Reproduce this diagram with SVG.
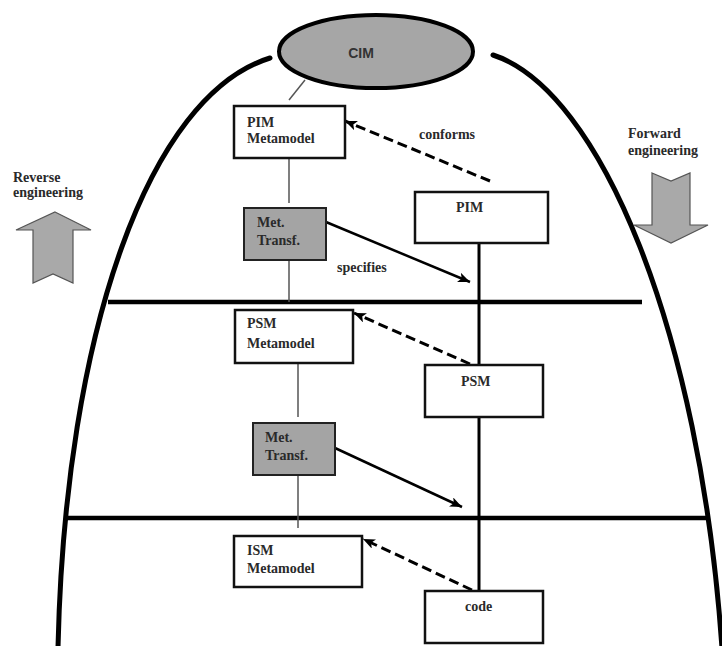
<svg xmlns="http://www.w3.org/2000/svg" width="722" height="646" viewBox="0 0 722 646">
  <style>
    .lbl { font-family: "Liberation Serif", "Times New Roman", serif; font-weight: bold; font-size: 14px; fill: #2a2a2a; }
    .sans { font-family: "Liberation Sans", Arial, sans-serif; font-weight: bold; font-size: 14px; fill: #333; }
    .box { fill: #fff; stroke: #111; stroke-width: 2.5; }
    .gbox { fill: #a4a4a4; stroke: #222; stroke-width: 2; }
    .arc { fill: none; stroke: #000; stroke-width: 5; stroke-linecap: round; }
    .level { stroke: #000; stroke-width: 4.5; }
    .thin { stroke: #555; stroke-width: 1.5; fill: none; }
    .trunk { stroke: #000; stroke-width: 3; }
    .dash { stroke: #000; stroke-width: 3; stroke-dasharray: 10 5; fill: none; }
    .solid { stroke: #000; stroke-width: 2.5; fill: none; }
    .bigarrow { fill: #a9a9a9; stroke: #555; stroke-width: 1.2; stroke-linejoin: miter; }
  </style>
  <defs>
    <marker id="head" markerUnits="userSpaceOnUse" markerWidth="14" markerHeight="12" refX="12" refY="5" orient="auto">
      <path d="M0,0 L12,5 L0,10 L3,5 Z" fill="#000"/>
    </marker>
  </defs>

  <!-- outer boundary arcs -->
  <g id="boundary">
    <path class="arc" d="M270,58 C150,95 65,330 58,648"/>
    <path class="arc" d="M493,55 C600,90 700,330 722,648"/>
  </g>

  <!-- level separators -->
  <g id="levels">
    <line class="level" x1="108" y1="302" x2="642" y2="302"/>
    <line class="level" x1="66" y1="518" x2="706" y2="518"/>
  </g>

  <!-- engineering direction arrows -->
  <g id="reverse">
    <text class="lbl" x="13" y="182">Reverse</text>
    <text class="lbl" x="13" y="197">engineering</text>
    <polygon class="bigarrow" points="55,212 91,230 73,230 73,283 53,274 33,283 33,230 16,230"/>
  </g>
  <g id="forward">
    <text class="lbl" x="628" y="138">Forward</text>
    <text class="lbl" x="628" y="155">engineering</text>
    <polygon class="bigarrow" points="652,173 671,181 690,173 690,225 708,225 671,243 634,225 652,225"/>
  </g>

  <!-- connectors -->
  <g id="connectors">
    <line class="thin" x1="305" y1="80" x2="289" y2="100"/>
    <line class="thin" x1="289" y1="158" x2="289" y2="203"/>
    <line class="thin" x1="289" y1="260" x2="289" y2="302"/>
    <line class="thin" x1="298" y1="363" x2="298" y2="417"/>
    <line class="thin" x1="298" y1="475" x2="298" y2="528"/>
    <line class="trunk" x1="479" y1="243" x2="479" y2="591"/>
    <line class="dash" x1="490" y1="181" x2="345" y2="121" marker-end="url(#head)"/>
    <line class="dash" x1="470" y1="364" x2="354" y2="313" marker-end="url(#head)"/>
    <line class="dash" x1="472" y1="590" x2="363" y2="539" marker-end="url(#head)"/>
    <line class="solid" x1="326" y1="222" x2="470" y2="282" marker-end="url(#head)"/>
    <line class="solid" x1="335" y1="448" x2="462" y2="507" marker-end="url(#head)"/>
    <text class="lbl" x="419" y="139">conforms</text>
    <text class="lbl" x="337" y="272">specifies</text>
  </g>

  <g id="cim">
    <ellipse cx="376" cy="51.5" rx="97" ry="36.5" fill="#a6a6a6" stroke="#000" stroke-width="4"/>
    <text class="sans" x="361" y="58" text-anchor="middle">CIM</text>
  </g>

  <g id="pim-metamodel">
    <rect class="box" x="234" y="106" width="111" height="52"/>
    <text class="lbl" x="247" y="127">PIM</text>
    <text class="lbl" x="247" y="143">Metamodel</text>
  </g>

  <g id="met-transf-1">
    <rect class="gbox" x="244" y="208" width="82" height="52"/>
    <text class="lbl" x="257" y="227">Met.</text>
    <text class="lbl" x="257" y="245">Transf.</text>
  </g>

  <g id="pim">
    <rect class="box" x="415" y="192" width="133" height="51"/>
    <text class="lbl" x="456" y="212">PIM</text>
  </g>

  <g id="psm-metamodel">
    <rect class="box" x="235" y="310" width="118" height="53"/>
    <text class="lbl" x="247" y="328">PSM</text>
    <text class="lbl" x="247" y="348">Metamodel</text>
  </g>

  <g id="psm">
    <rect class="box" x="425" y="365" width="118" height="52"/>
    <text class="lbl" x="461" y="386">PSM</text>
  </g>

  <g id="met-transf-2">
    <rect class="gbox" x="253" y="423" width="82" height="52"/>
    <text class="lbl" x="265" y="442">Met.</text>
    <text class="lbl" x="265" y="460">Transf.</text>
  </g>

  <g id="ism-metamodel">
    <rect class="box" x="234" y="536" width="128" height="51"/>
    <text class="lbl" x="247" y="555">ISM</text>
    <text class="lbl" x="247" y="573">Metamodel</text>
  </g>

  <g id="code">
    <rect class="box" x="425" y="591" width="118" height="52"/>
    <text class="lbl" x="465" y="611">code</text>
  </g>
</svg>
